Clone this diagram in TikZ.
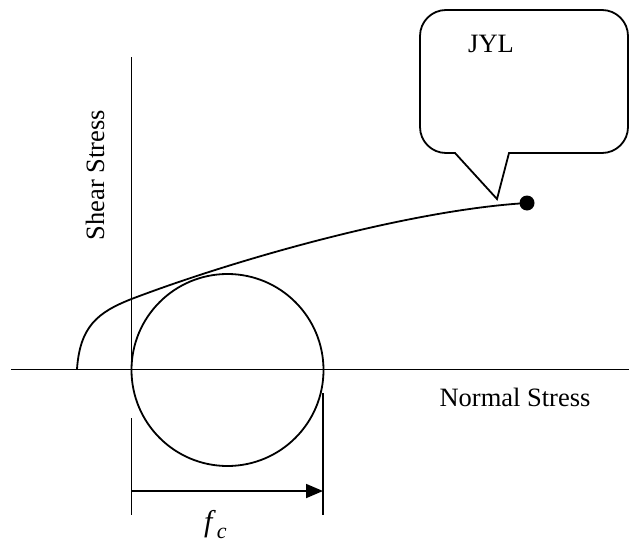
\documentclass[tikz,border=0pt]{standalone}
\usepackage{fontspec}
\setmainfont{Liberation Serif}
\usetikzlibrary{arrows.meta}
\tikzset{
  ln/.style={line width=1.8pt},
  lbl/.style={inner sep=0pt, font=\fontsize{26.5}{30}\selectfont},
  tick/.style={line width=1.8pt},
}
\begin{document}
\begin{tikzpicture}[x=1pt,y=-1pt]
\useasboundingbox (0,0) rectangle (629,546);
% axes
\coordinate (hL) at (11,369.5);
\coordinate (hR) at (629,369.5);
\coordinate (vT) at (131.5,57);
\coordinate (vB) at (131.5,374);
\draw[ln] (hL) -- (hR);
\draw[ln] (vT) -- (vB);
% circle
\node[ln, draw, circle, minimum size=192pt, inner sep=0pt] (mohr) at (227.5,370) {};
% envelope curve
\coordinate (c0) at (77,369);
\coordinate (c1) at (131.5,299);
\node[fill=black, circle, minimum size=15pt, inner sep=0pt] (dot) at (527,203) {};
\draw[ln] (c0) .. controls (80,327) and (97,312.5) .. (c1)
  .. controls (231,261) and (407,210.2) .. (dot.center);
% callout
\draw[ln, rounded corners=26pt] (520,10) -- (420,10) -- (420,153)
  [sharp corners] -- (455,153) -- (497,199) -- (509,153)
  [rounded corners=26pt] -- (628,153) -- (628,10) -- cycle;
\node[lbl, anchor=base west] (jyl) at (468,52) {JYL};
% labels
\node[lbl, rotate=90] (shear) at (95,175) {Shear Stress};
\node[lbl] (normal) at (515,397) {Normal Stress};
% dimension
\coordinate (dL1) at (131.5,418);
\coordinate (dL2) at (131.5,515);
\coordinate (dR1) at (323,393);
\coordinate (dR2) at (323,515);
\draw[tick] (dL1) -- (dL2);
\draw[tick] (dR1) -- (dR2);
\coordinate (aL) at (131.5,491);
\coordinate (aR) at (323,491);
\draw[ln, -{Triangle[length=17pt,width=14pt]}] (aL) -- (aR);
\node[inner sep=0pt, anchor=base west] (fc) at (204,531.5) {\fontsize{30}{34}\selectfont\textit{f}\hspace{1pt}\raisebox{-6.5pt}{\fontsize{22}{24}\selectfont\textit{c}}};
\end{tikzpicture}
\end{document}
